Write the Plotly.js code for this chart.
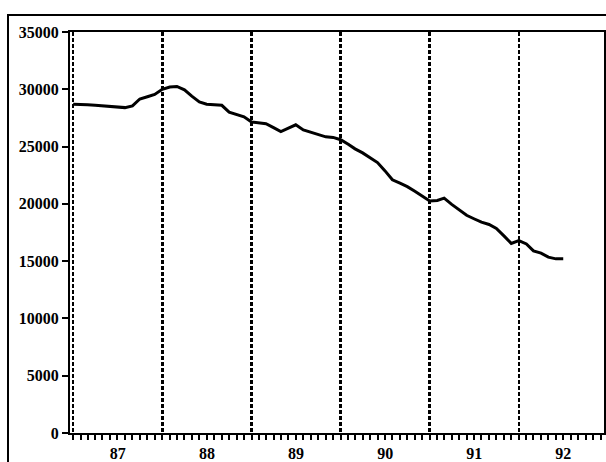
<!DOCTYPE html>
<html>
<head>
<meta charset="utf-8">
<script src="https://cdn.plot.ly/plotly-3.0.1.min.js"></script>
<style>
  body { margin: 0; background: #fff; }
  #wrap { position: relative; width: 606px; height: 462px; overflow: hidden; }
  #frame { position: absolute; left: 7px; top: 14px; width: 640px; height: 480px;
           border-left: 2px solid #000; border-top: 2px solid #000; }
  #chart { position: absolute; left: 0; top: 0; width: 606px; height: 462px; }
</style>
</head>
<body>
<div id="wrap">
  <div id="frame"></div>
  <div id="chart"></div>
</div>
<script>
// monthly values, Jan 1987 .. Jul 1992
const startYear = 1987
const values = [
  28700, 28700, 28650, 28600, 28550, 28450, 28400, 28400, 28550, 29150, 29350, 29550,
  30000, 30200, 30250, 29950, 29400, 28900, 28700, 28650, 28600, 28000, 27800, 27600,
  27150, 27050, 27000, 26650, 26300, 26600, 26900, 26450, 26250, 26050, 25850, 25800,
  25600, 25200, 24800, 24450, 24000, 23600, 22900, 22100, 21800, 21500, 21100, 20700,
  20250, 20300, 20500, 19950, 19450, 19000, 18700, 18400, 18200, 17850, 17200, 16550,
  16800, 16500, 15900, 15700, 15350, 15200, 15200
]
const yTicks = [0, 5000, 10000, 15000, 20000, 25000, 30000, 35000]

// one date per value, first of each month
const months = values.map((v, i) => {
  const y = startYear + Math.floor(i / 12)
  const m = (i % 12) + 1
  return y + '-' + String(m).padStart(2, '0') + '-01'
})

const tickFont = { family: 'Liberation Serif, Times New Roman, serif', size: 16, color: '#000', weight: 'bold' }

const trace = {
  x: months,
  y: values,
  type: 'scatter',
  mode: 'lines',
  line: { color: '#000', width: 3 },
  hoverinfo: 'skip'
}

const layout = {
  width: 606,
  height: 462,
  margin: { l: 70, r: 2, t: 32, b: 29, autoexpand: false },
  paper_bgcolor: 'rgba(0,0,0,0)',
  plot_bgcolor: '#fff',
  showlegend: false,
  xaxis: {
    type: 'date',
    range: ['1986-12-19', '1992-12-15'],
    tick0: '1987-01-01',
    dtick: 'M12',
    tickformat: '%y',
    ticklabelmode: 'period',
    ticks: 'outside',
    ticklen: 5,
    tickwidth: 2,
    tickcolor: '#000',
    tickfont: tickFont,
    showline: true,
    linecolor: '#000',
    linewidth: 2,
    mirror: true,
    showgrid: true,
    gridcolor: '#000',
    gridwidth: 2.5,
    griddash: '4px,2px',
    zeroline: false,
    automargin: false,
    fixedrange: true,
    minor: {
      dtick: 'M1',
      ticks: 'outside',
      ticklen: 5,
      tickwidth: 2,
      tickcolor: '#000',
      showgrid: false
    }
  },
  yaxis: {
    range: [0, 35000],
    tickvals: yTicks,
    tickformat: 'd',
    ticks: 'outside',
    ticklen: 6,
    tickwidth: 2,
    tickcolor: '#000',
    tickfont: tickFont,
    showline: true,
    linecolor: '#000',
    linewidth: 2,
    mirror: true,
    showgrid: false,
    zeroline: false,
    automargin: false,
    fixedrange: true
  }
}

Plotly.newPlot('chart', [trace], layout, { staticPlot: true })
</script>
</body>
</html>
